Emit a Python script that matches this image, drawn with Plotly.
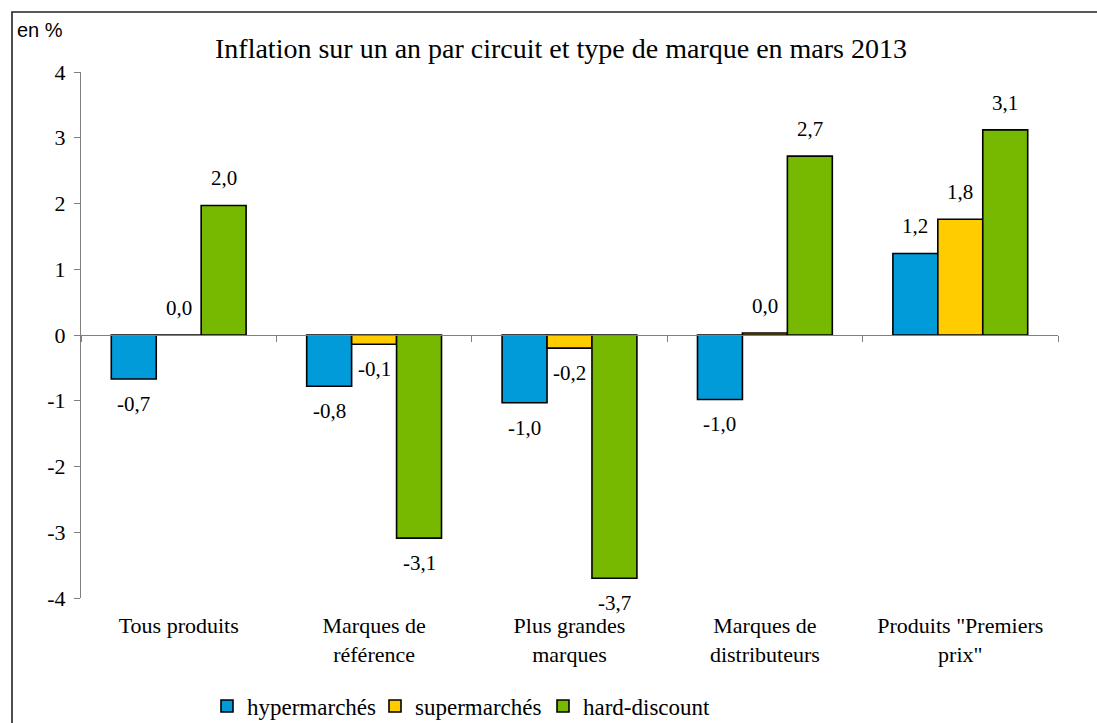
import plotly.graph_objects as go

categories = ["Tous produits", "Marques de<br>référence", "Plus grandes<br>marques",
              "Marques de<br>distributeurs", "Produits \"Premiers<br>prix\""]
series_names = ["hypermarchés", "supermarchés", "hard-discount"]
hyper = [-0.67, -0.78, -1.03, -0.98, 1.24]
super_ = [0.0, -0.14, -0.20, 0.03, 1.76]
hard = [1.97, -3.09, -3.70, 2.72, 3.12]
colors = ["#009BD8", "#FFCC00", "#77B800"]
y_ticks = [-4, -3, -2, -1, 0, 1, 2, 3, 4]

W, H = 1097, 723
L, R, T, B = 81, 39, 72, 125
serif = "Liberation Serif"

fig = go.Figure()
all_series = [hyper, super_, hard]
for name, vals, col in zip(series_names, all_series, colors):
    fig.add_trace(go.Bar(
        x=categories, y=vals, name=name,
        marker=dict(color=col, line=dict(color="black", width=1.6)),
        hoverinfo="skip",
    ))

# invisible trace to hold the zero-line axis
fig.add_trace(go.Scatter(x=[], y=[], xaxis="x2", yaxis="y", showlegend=False,
                         hoverinfo="skip", mode="lines"))

plot_w = W - L - R
plot_h = H - T - B
cat_w = plot_w / len(categories)
bargap = 0.31
bar_w = cat_w * (1 - bargap) / 3
annotations = []
for j, vals in enumerate(all_series):
    for i, v in enumerate(vals):
        txt = f"{v:.1f}".replace(".", ",")
        if txt == "-0,0":
            txt = "0,0"
        annotations.append(dict(
            x=categories[i], y=v, xref="x", yref="y",
            text=txt, showarrow=False,
            xshift=(j - 1) * bar_w,
            yshift=27 if v >= 0 else -25,
            yanchor="middle", xanchor="center",
            font=dict(family=serif, size=21, color="black"),
        ))

annotations.append(dict(
    text="en %", x=(15 - L) / plot_w, y=1 + (T - 30) / plot_h,
    xref="paper", yref="paper",
    showarrow=False, font=dict(family="Liberation Sans", size=20, color="black"),
    xanchor="left", yanchor="middle",
))

zero_pos = (0 - y_ticks[0]) / (y_ticks[-1] - y_ticks[0])

fig.update_layout(
    width=W, height=H,
    margin=dict(l=L, r=R, t=T, b=B),
    paper_bgcolor="white", plot_bgcolor="white",
    barmode="group", bargap=bargap, bargroupgap=0,
    title=dict(text="Inflation sur un an par circuit et type de marque en mars 2013",
               x=561 / W, xanchor="center", xref="container",
               y=(H - 48) / H, yanchor="middle", yref="container",
               font=dict(family=serif, size=28, color="black")),
    xaxis=dict(type="category", showline=False, ticks="", showgrid=False,
               tickfont=dict(family=serif, size=22, color="black"),
               ticklabelstandoff=12),
    xaxis2=dict(overlaying="x", anchor="free", position=zero_pos, side="bottom",
                range=[-0.5, len(categories) - 0.5],
                tickvals=[k - 0.5 for k in range(len(categories) + 1)],
                showticklabels=False, ticks="outside", ticklen=6, tickcolor="#808080",
                showline=True, linecolor="#808080", linewidth=1,
                showgrid=False, zeroline=False),
    yaxis=dict(range=[y_ticks[0], y_ticks[-1]], tickvals=y_ticks,
               ticktext=[str(t) for t in y_ticks],
               showline=True, linecolor="#808080", linewidth=1,
               ticks="outside", ticklen=6, tickcolor="#808080",
               showgrid=False, zeroline=False,
               tickfont=dict(family=serif, size=22, color="black"),
               ticklabelstandoff=4),
    legend=dict(orientation="h", xref="container", yref="container",
                x=459 / W, xanchor="center", y=17 / H, yanchor="middle",
                font=dict(family=serif, size=23, color="black"),
                itemwidth=30, tracegroupgap=0, entrywidth=123,
                entrywidthmode="pixels"),
    annotations=annotations,
    shapes=[dict(type="rect", xref="paper", yref="paper",
                 x0=(12 - L) / plot_w, x1=1.2,
                 y0=-0.5, y1=1 + (T - 12) / plot_h,
                 line=dict(color="#222222", width=1.6), fillcolor="rgba(0,0,0,0)",
                 layer="below")],
    showlegend=True,
)

fig.write_html("out.html", config={"displayModeBar": False},
               post_script="document.body.style.margin='0';document.body.style.padding='0';")
